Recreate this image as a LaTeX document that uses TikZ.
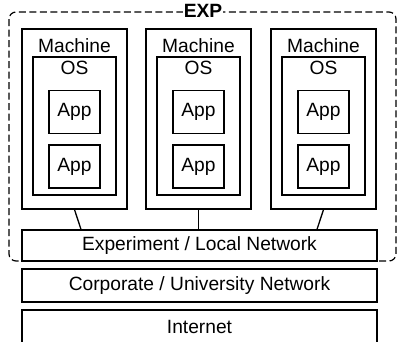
\documentclass[tikz,border=0pt]{standalone}
\usepackage{fontspec}
\setmainfont{Liberation Sans}
\begin{document}
\begin{tikzpicture}[x=1pt,y=-1pt,
  every node/.style={font=\fontsize{19.2}{22}\selectfont},
  box/.style={draw,line width=1.3pt,inner sep=0pt},
  txt/.style={inner sep=0pt},
  line width=1.3pt]
\useasboundingbox (0,0) rectangle (398,341);
\clip (0,0) rectangle (398,341);
% dashed frame
\draw[dashed,dash pattern=on 7pt off 3.5pt,rounded corners=7pt,line width=1.2pt] (9,12) rectangle (396,261);
\node[txt,fill=white,inner xsep=1pt,font=\fontsize{19.2}{22}\selectfont\bfseries] (exp) at (203,11) {EXP};
% machines
\foreach \i/\x in {1/22,2/146,3/271}{
  \node[box,minimum width=105pt,minimum height=180pt] (m\i) at (\x+52.5,119) {};
  \node[txt] (mt\i) at (\x+52.5,45.5) {Machine};
  \node[box,minimum width=83pt,minimum height=138pt] (os\i) at (\x+52.5,126) {};
  \node[txt] (ost\i) at (\x+52.5,68) {OS};
  \node[box,minimum width=51pt,minimum height=42.5pt] (a\i) at (\x+52.5,112) {App};
  \node[box,minimum width=51pt,minimum height=43pt] (b\i) at (\x+52.5,166.5) {App};
}
% networks
\node[box,minimum width=355pt,minimum height=31pt] (net) at (199.5,245.5) {Experiment / Local Network};
\node[box,minimum width=355pt,minimum height=33pt] (corp) at (199.5,285.5) {Corporate / University Network};
\node[box,minimum width=355pt,minimum height=33pt] (inet) at (199.5,326.5) {Internet};
% connectors
\draw (m1.south) -- ([xshift=6.5pt]m1.south |- net.north);
\draw (m2.south) -- (m2.south |- net.north);
\draw (m3.south) -- ([xshift=-6.5pt]m3.south |- net.north);
\end{tikzpicture}
\end{document}
